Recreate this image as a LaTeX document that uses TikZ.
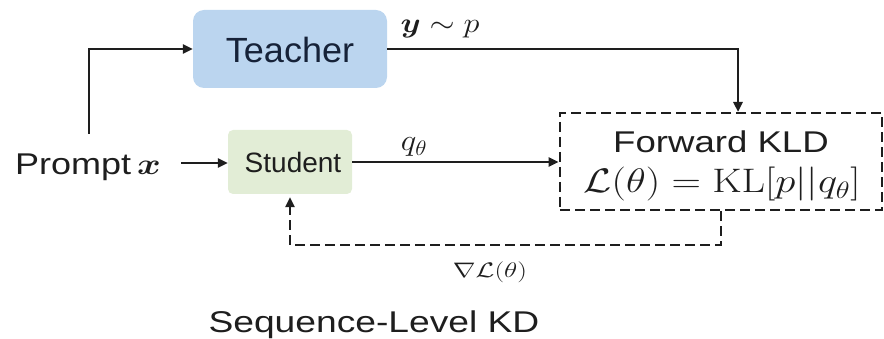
\RequirePackage{fix-cm}
\documentclass[tikz,border=0pt]{standalone}
\usepackage[no-math]{fontspec}
\setmainfont{Liberation Sans}
\usepackage{amsmath,bm,graphicx}
\usetikzlibrary{arrows.meta}
\definecolor{tfill}{RGB}{187,213,239}
\definecolor{sfill}{RGB}{226,237,214}
\definecolor{tink}{RGB}{22,34,56}
\definecolor{ink}{RGB}{30,30,30}
\tikzset{
  arr/.style={line width=2.8pt, draw=ink, -{Triangle[length=10pt,width=9pt]}},
  dashline/.style={dash pattern=on 10pt off 5pt},
  teacherbox/.style={fill=tfill, rounded corners=11pt, minimum width=194pt, minimum height=78pt, inner sep=0pt},
  studentbox/.style={fill=sfill, rounded corners=5pt, minimum width=124pt, minimum height=64pt, inner sep=0pt},
  kldbox/.style={draw=ink, line width=2.8pt, dashline, minimum width=322pt, minimum height=97pt, inner sep=0pt},
  txt/.style={anchor=base, inner sep=0pt, text=ink},
}
\begin{document}
\begin{tikzpicture}[x=1pt,y=-1pt]
\useasboundingbox (0,0) rectangle (884,339);
% boxes
\node[teacherbox] (teacher) at (290,49) {};
\node[studentbox] (student) at (290,162) {};
\node[kldbox] (kld) at (721,161.5) {};
% texts
\node[txt, text=tink, font=\fontsize{35}{40}\selectfont] (tteach) at (290,63) {\scalebox{1.03}[1]{Teacher}};
\node[txt, font=\fontsize{28}{32}\selectfont] (tstud) at (293,173) {Student};
\node[txt, font=\fontsize{30}{36}\selectfont, anchor=base west] (prompt) at (15,175) {\scalebox{1.2}[1]{Prompt\,$\bm{x}$}};
\node[txt, font=\fontsize{30}{36}\selectfont] (tfwd) at (721,153) {\scalebox{1.22}[1]{Forward KLD}};
\node[txt, font=\fontsize{34}{38}\selectfont] (tform) at (722,193) {\scalebox{1.2}[1]{$\mathcal{L}(\theta)=\mathrm{KL}[p||q_\theta]$}};
\node[txt, font=\fontsize{28}{32}\selectfont] (lyp) at (440,33) {\scalebox{1.15}[1]{$\bm{y}\sim p$}};
\node[txt, font=\fontsize{30}{34}\selectfont] (lq) at (414,151) {\scalebox{1.1}[1]{$q_\theta$}};
\node[txt, font=\fontsize{21}{26}\selectfont] (lgrad) at (490,277) {\scalebox{1.3}[1]{$\nabla\mathcal{L}(\theta)$}};
\node[txt, font=\fontsize{30}{36}\selectfont] (title) at (374,332) {\scalebox{1.24}[1]{Sequence-Level KD}};
% coordinates
\coordinate (pup) at (89,134);
\coordinate (pout) at (181,163);
\coordinate (kin) at (738,112);
\coordinate (fb) at (290,245);
% connectors
\draw[arr] (pup) |- (teacher.west);
\draw[arr] (pout) -- (student.west |- pout);
\draw[arr] (teacher.east) -| (kin);
\draw[arr] (student.east) -- (student.east -| kld.west);
\draw[arr, dashline] (kld.south) |- (fb) -- ([yshift=-3pt]student.south);
\end{tikzpicture}
\end{document}
